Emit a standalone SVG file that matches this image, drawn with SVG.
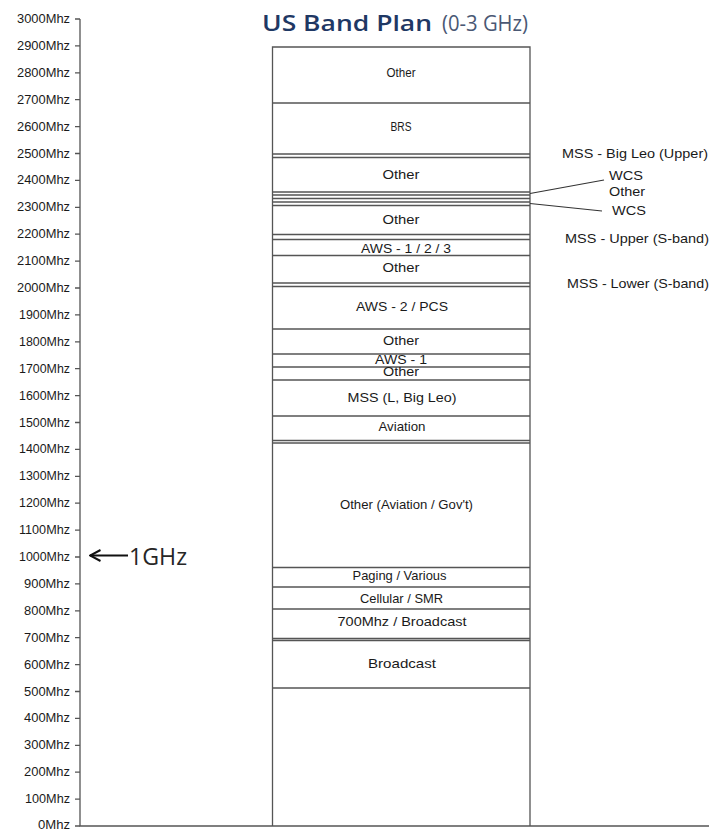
<svg xmlns="http://www.w3.org/2000/svg" width="709" height="829" viewBox="0 0 709 829">
<style>
.ax{font-family:"Liberation Sans",Arial,sans-serif;font-size:12px;fill:#1a1a1a;text-anchor:end}
.bl{font-family:"Liberation Sans",Arial,sans-serif;font-size:13px;fill:#1a1a1a;text-anchor:middle}
.bs{font-family:"Liberation Sans",Arial,sans-serif;font-size:12px;fill:#1a1a1a;text-anchor:middle}
.rl{font-family:"Liberation Sans",Arial,sans-serif;font-size:13px;fill:#1a1a1a;text-anchor:start}
.bd{stroke:#555;stroke-width:1.3;fill:none}
.lead{stroke:#333;stroke-width:1.2;fill:none}
</style>
<defs>
<marker id="ah" viewBox="0 0 14 14" refX="12.5" refY="7" markerWidth="14" markerHeight="14" markerUnits="userSpaceOnUse" orient="auto">
<path d="M2 1.5 L12.5 7 L2 12.5" fill="none" stroke="#111" stroke-width="2"/>
</marker>
</defs>
<rect width="709" height="829" fill="#fff"/>
<g id="title">
<text x="262" y="31" font-family="'Open Sans','Noto Sans',sans-serif" font-size="22"><tspan font-weight="600" fill="#1F3864" textLength="170" lengthAdjust="spacingAndGlyphs">US Band Plan</tspan></text>
<text x="442" y="31" font-family="'Open Sans','Noto Sans',sans-serif" font-size="22" fill="#4A5874" textLength="86" lengthAdjust="spacingAndGlyphs">(0-3 GHz)</text>
</g>
<g id="axis">
<path class="bd" d="M80 19V826H709"/>
<path class="bd" d="M75 19H80M75 45.9H80M75 72.8H80M75 99.7H80M75 126.6H80M75 153.5H80M75 180.4H80M75 207.3H80M75 234.2H80M75 261.1H80M75 288H80M75 314.9H80M75 341.8H80M75 368.7H80M75 395.6H80M75 422.5H80M75 449.4H80M75 476.3H80M75 503.2H80M75 530.1H80M75 557H80M75 583.9H80M75 610.8H80M75 637.7H80M75 664.6H80M75 691.5H80M75 718.4H80M75 745.3H80M75 772.2H80M75 799.1H80M75 826H80"/>
<text class="ax" x="70" y="23" textLength="53" lengthAdjust="spacingAndGlyphs">3000Mhz</text>
<text class="ax" x="70" y="49.9" textLength="53" lengthAdjust="spacingAndGlyphs">2900Mhz</text>
<text class="ax" x="70" y="76.8" textLength="53" lengthAdjust="spacingAndGlyphs">2800Mhz</text>
<text class="ax" x="70" y="103.7" textLength="53" lengthAdjust="spacingAndGlyphs">2700Mhz</text>
<text class="ax" x="70" y="130.6" textLength="53" lengthAdjust="spacingAndGlyphs">2600Mhz</text>
<text class="ax" x="70" y="157.5" textLength="53" lengthAdjust="spacingAndGlyphs">2500Mhz</text>
<text class="ax" x="70" y="184.4" textLength="53" lengthAdjust="spacingAndGlyphs">2400Mhz</text>
<text class="ax" x="70" y="211.3" textLength="53" lengthAdjust="spacingAndGlyphs">2300Mhz</text>
<text class="ax" x="70" y="238.2" textLength="53" lengthAdjust="spacingAndGlyphs">2200Mhz</text>
<text class="ax" x="70" y="265.1" textLength="53" lengthAdjust="spacingAndGlyphs">2100Mhz</text>
<text class="ax" x="70" y="292" textLength="53" lengthAdjust="spacingAndGlyphs">2000Mhz</text>
<text class="ax" x="70" y="318.9" textLength="51" lengthAdjust="spacingAndGlyphs">1900Mhz</text>
<text class="ax" x="70" y="345.8" textLength="51" lengthAdjust="spacingAndGlyphs">1800Mhz</text>
<text class="ax" x="70" y="372.7" textLength="51" lengthAdjust="spacingAndGlyphs">1700Mhz</text>
<text class="ax" x="70" y="399.6" textLength="51" lengthAdjust="spacingAndGlyphs">1600Mhz</text>
<text class="ax" x="70" y="426.5" textLength="51" lengthAdjust="spacingAndGlyphs">1500Mhz</text>
<text class="ax" x="70" y="453.4" textLength="51" lengthAdjust="spacingAndGlyphs">1400Mhz</text>
<text class="ax" x="70" y="480.3" textLength="51" lengthAdjust="spacingAndGlyphs">1300Mhz</text>
<text class="ax" x="70" y="507.2" textLength="51" lengthAdjust="spacingAndGlyphs">1200Mhz</text>
<text class="ax" x="70" y="534.1" textLength="51" lengthAdjust="spacingAndGlyphs">1100Mhz</text>
<text class="ax" x="70" y="561" textLength="51" lengthAdjust="spacingAndGlyphs">1000Mhz</text>
<text class="ax" x="70" y="587.9" textLength="46" lengthAdjust="spacingAndGlyphs">900Mhz</text>
<text class="ax" x="70" y="614.8" textLength="46" lengthAdjust="spacingAndGlyphs">800Mhz</text>
<text class="ax" x="70" y="641.7" textLength="46" lengthAdjust="spacingAndGlyphs">700Mhz</text>
<text class="ax" x="70" y="668.6" textLength="46" lengthAdjust="spacingAndGlyphs">600Mhz</text>
<text class="ax" x="70" y="695.5" textLength="46" lengthAdjust="spacingAndGlyphs">500Mhz</text>
<text class="ax" x="70" y="722.4" textLength="46" lengthAdjust="spacingAndGlyphs">400Mhz</text>
<text class="ax" x="70" y="749.3" textLength="46" lengthAdjust="spacingAndGlyphs">300Mhz</text>
<text class="ax" x="70" y="776.2" textLength="46" lengthAdjust="spacingAndGlyphs">200Mhz</text>
<text class="ax" x="70" y="803.1" textLength="45" lengthAdjust="spacingAndGlyphs">100Mhz</text>
<text class="ax" x="70" y="829" textLength="32" lengthAdjust="spacingAndGlyphs">0Mhz</text>
</g>
<g id="column">
<path class="bd" d="M272.5 826V47H530V826"/>
<path class="bd" d="M272.5 103H530M272.5 154H530M272.5 157.5H530M272.5 192H530M272.5 195H530M272.5 198.5H530M272.5 202H530M272.5 205.5H530M272.5 234.5H530M272.5 239.5H530M272.5 255.5H530M272.5 283H530M272.5 286.5H530M272.5 329H530M272.5 354H530M272.5 367H530M272.5 380H530M272.5 416H530M272.5 440.5H530M272.5 443H530M272.5 567.5H530M272.5 587H530M272.5 609H530M272.5 638.5H530M272.5 640.5H530M272.5 688H530"/>
</g>
<g id="band-other-top"><text class="bs" x="401" y="77" textLength="29" lengthAdjust="spacingAndGlyphs">Other</text></g>
<g id="band-brs"><text class="bs" x="401" y="131" textLength="21" lengthAdjust="spacingAndGlyphs">BRS</text></g>
<g id="band-other-2400"><text class="bl" x="401" y="178.5" textLength="37" lengthAdjust="spacingAndGlyphs">Other</text></g>
<g id="band-other-2250"><text class="bl" x="401" y="223.5" textLength="37" lengthAdjust="spacingAndGlyphs">Other</text></g>
<g id="band-aws123"><text class="bl" x="406" y="252.5" textLength="90" lengthAdjust="spacingAndGlyphs">AWS - 1 / 2 / 3</text></g>
<g id="band-other-2120"><text class="bl" x="401" y="272" textLength="37" lengthAdjust="spacingAndGlyphs">Other</text></g>
<g id="band-aws2pcs"><text class="bl" x="402" y="311" textLength="92" lengthAdjust="spacingAndGlyphs">AWS - 2 / PCS</text></g>
<g id="band-other-1800"><text class="bl" x="401" y="345" textLength="36" lengthAdjust="spacingAndGlyphs">Other</text></g>
<g id="band-aws1"><text class="bl" x="401" y="364" textLength="52" lengthAdjust="spacingAndGlyphs">AWS - 1</text></g>
<g id="band-other-1690"><text class="bl" x="401" y="376" textLength="36" lengthAdjust="spacingAndGlyphs">Other</text></g>
<g id="band-mss-l"><text class="bl" x="402" y="402" textLength="109" lengthAdjust="spacingAndGlyphs">MSS (L, Big Leo)</text></g>
<g id="band-aviation"><text class="bl" x="402" y="431" textLength="47" lengthAdjust="spacingAndGlyphs">Aviation</text></g>
<g id="band-other-aviation-gov"><text class="bl" x="406.5" y="508.5" textLength="133" lengthAdjust="spacingAndGlyphs">Other (Aviation / Gov't)</text></g>
<g id="band-paging"><text class="bl" x="399.5" y="579.5" textLength="94" lengthAdjust="spacingAndGlyphs">Paging / Various</text></g>
<g id="band-cellular"><text class="bl" x="401.5" y="602.5" textLength="83" lengthAdjust="spacingAndGlyphs">Cellular / SMR</text></g>
<g id="band-700"><text class="bl" x="402" y="625.5" textLength="129" lengthAdjust="spacingAndGlyphs">700Mhz / Broadcast</text></g>
<g id="band-broadcast"><text class="bl" x="402" y="667.5" textLength="68" lengthAdjust="spacingAndGlyphs">Broadcast</text></g>
<g id="label-mss-bigleo-upper"><text class="rl" x="562" y="157.5" textLength="146" lengthAdjust="spacingAndGlyphs">MSS - Big Leo (Upper)</text></g>
<g id="label-wcs-1"><text class="rl" x="609" y="180" textLength="34" lengthAdjust="spacingAndGlyphs">WCS</text></g>
<g id="label-other"><text class="rl" x="609" y="195.5" textLength="36" lengthAdjust="spacingAndGlyphs">Other</text></g>
<g id="label-wcs-2"><text class="rl" x="612" y="215" textLength="34" lengthAdjust="spacingAndGlyphs">WCS</text></g>
<g id="label-mss-upper"><text class="rl" x="565" y="243" textLength="144" lengthAdjust="spacingAndGlyphs">MSS - Upper (S-band)</text></g>
<g id="label-mss-lower"><text class="rl" x="567" y="287.5" textLength="142" lengthAdjust="spacingAndGlyphs">MSS - Lower (S-band)</text></g>
<g id="label-1ghz"><text x="129" y="565" font-family="'Open Sans','Noto Sans',sans-serif" font-size="23" fill="#262626" textLength="58" lengthAdjust="spacingAndGlyphs">1GHz</text></g>
<g id="connectors">
<path class="lead" d="M530 193.5L604 180"/>
<path class="lead" d="M530 203.5L602 211"/>
<path d="M128 555.5H90" stroke="#111" stroke-width="2" fill="none" marker-end="url(#ah)"/>
</g>
</svg>
